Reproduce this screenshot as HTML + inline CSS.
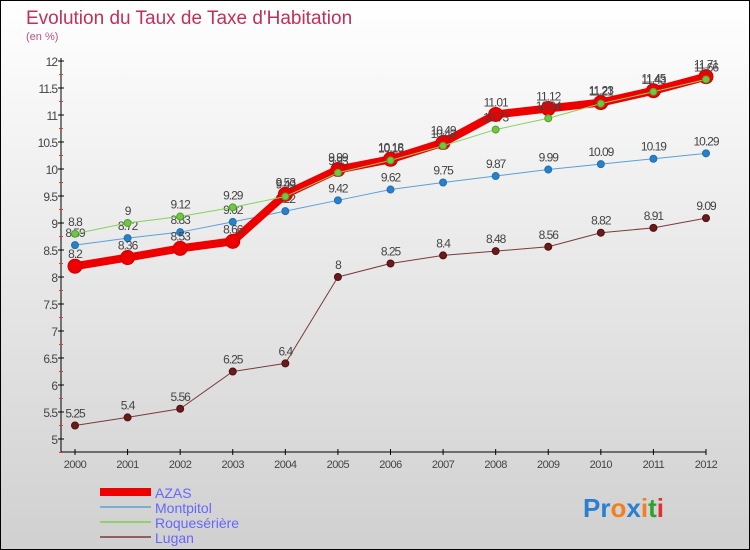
<!DOCTYPE html>
<html><head><meta charset="utf-8"><style>
body{margin:0;}
#c{width:750px;height:550px;position:relative;overflow:hidden;}
text{font-family:"Liberation Sans",sans-serif;}
</style></head><body>
<div id="c">
<svg id="s" width="750" height="550" xmlns="http://www.w3.org/2000/svg">
<defs><linearGradient id="bg" x1="0" y1="0" x2="0" y2="1"><stop offset="0" stop-color="#ffffff"/><stop offset="1" stop-color="#d0d0d0"/></linearGradient></defs>
<rect x="0.5" y="0.5" width="749" height="549" fill="url(#bg)" stroke="#000"/>
<text x="26" y="24" font-size="19" fill="#c0305a">Evolution du Taux de Taxe d'Habitation</text>
<text x="26" y="40" font-size="11" fill="#c0508a">(en %)</text>
<g id="axes"></g><g id="marks"></g>
<g>
<rect x="100" y="488" width="51" height="8" fill="#e00"/>
<text x="155" y="498" font-size="14" fill="#6666ff">AZAS</text>
<rect x="100" y="506" width="51" height="2" fill="#7aaed4"/>
<text x="155" y="513" font-size="14" fill="#6666ff">Montpitol</text>
<rect x="100" y="521" width="51" height="2" fill="#90d070"/>
<text x="155" y="528" font-size="14" fill="#6666ff">Roquesérière</text>
<rect x="100" y="536" width="51" height="2" fill="#906060"/>
<text x="155" y="543" font-size="14" fill="#6666ff">Lugan</text>
</g>
<text x="583" y="517" font-size="26" font-weight="bold"><tspan fill="#2a7fd0">Pr</tspan><tspan fill="#f08020">o</tspan><tspan fill="#2a7fd0">x</tspan><tspan fill="#f08020">i</tspan><tspan fill="#30a030">t</tspan><tspan fill="#e03030">i</tspan></text>
</svg></div>
<script>
const years=[2000,2001,2002,2003,2004,2005,2006,2007,2008,2009,2010,2011,2012];
const azas=[8.2,8.36,8.53,8.66,9.53,9.99,10.18,10.49,11.01,11.12,11.23,11.45,11.71];
const montpitol=[8.59,8.72,8.83,9.02,9.22,9.42,9.62,9.75,9.87,9.99,10.09,10.19,10.29];
const roque=[8.8,9,9.12,9.29,9.49,9.93,10.16,10.43,10.73,10.94,11.21,11.43,11.66];
const lugan=[5.25,5.4,5.56,6.25,6.4,8,8.25,8.4,8.48,8.56,8.82,8.91,9.09];
const yTicks=[5,5.5,6,6.5,7,7.5,8,8.5,9,9.5,10,10.5,11,11.5,12];
const NS="http://www.w3.org/2000/svg";
const xs=i=>75+i*(706-75)/(years.length-1);
const ys=v=>439-(v-5)*54;
function mk(t,a,p){const e=document.createElementNS(NS,t);for(const k in a)e.setAttribute(k,a[k]);p.appendChild(e);return e;}
const ax=document.getElementById('axes'),mg=document.getElementById('marks');
let l=mk('line',{x1:61,y1:58,x2:61,y2:452,stroke:'#000'},ax);


l=mk('line',{x1:61,y1:452,x2:706,y2:452,stroke:'#000'},ax);


yTicks.forEach(v=>{const y=ys(v);
mk('line',{x1:58,y1:y,x2:64,y2:y,stroke:'#000'},ax);
mk('line',{x1:59,y1:y+13.5,x2:63,y2:y+13.5,stroke:'#e33'},ax);
const t=mk('text',{x:57,y:y+5,'font-size':12,'text-anchor':'end',fill:'#444','letter-spacing':'-1'},ax);t.textContent=v;

});
years.forEach((yr,i)=>{const x=xs(i);mk('line',{x1:x,y1:449,x2:x,y2:455,stroke:'#000'},ax);
const t=mk('text',{x:x,y:468,'font-size':11,'text-anchor':'middle',fill:'#444','letter-spacing':'-0.5'},ax);t.textContent=yr;

});
function series(d,name,col,w,r,fill,stroke){
const p=mk('polyline',{points:d.map((v,i)=>xs(i)+','+ys(v)).join(' '),fill:'none',stroke:col,'stroke-width':w,'stroke-linejoin':'round'},mg);


d.forEach((v,i)=>{const c=mk('circle',{cx:xs(i),cy:ys(v),r:r,fill:fill,stroke:stroke,'stroke-width':1},mg);


const t=mk('text',{x:xs(i),y:ys(v)-8,'font-size':12,'text-anchor':'middle',fill:'#444','letter-spacing':'-1'},mg);t.textContent=v;

});}
series(lugan,'lugan','#7a3a3a',1,3.5,'#6a1a1a','#501010');
series(montpitol,'montpitol','#5aa0d8',1,3.5,'#2a80c8','#2070b0');
series(azas,'azas','#ee0000',8,7,'#ee0000','#c00');
series(roque,'roqueseriere','#88d060',1,3.5,'#70c840','#50a030');
</script>
</body></html>
